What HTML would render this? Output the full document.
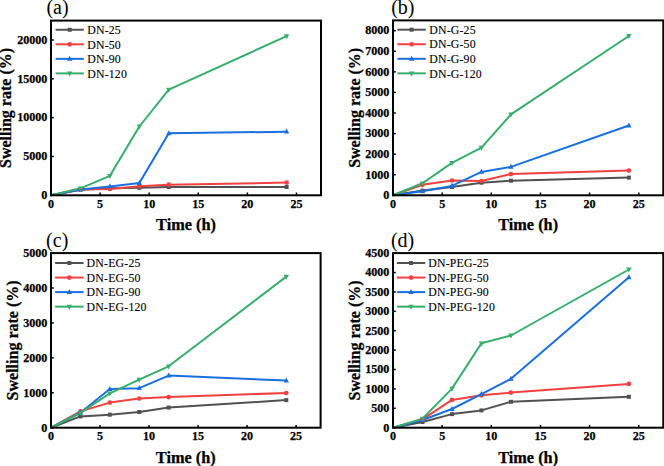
<!DOCTYPE html>
<html><head><meta charset="utf-8"><style>
html,body{margin:0;padding:0;background:#fff;}
body{width:664px;height:466px;overflow:hidden;}
svg{display:block;}
text{font-family:"Liberation Serif",serif;fill:#000;}
.tk{font-size:12.1px;font-weight:bold;stroke:#000;stroke-width:0.25px;}
.lg{font-size:11.8px;fill:#000;stroke:#000;stroke-width:0.12px;letter-spacing:0.2px;}
.ti{font-size:16.3px;font-weight:bold;stroke:#000;stroke-width:0.25px;}
.pl{font-size:20px;}
.yl{font-size:16px;}
</style></head><body>
<svg width="664" height="466" viewBox="0 0 664 466">
<rect width="664" height="466" fill="#fff"/>
<polyline points="51.00,195.30 80.45,189.70 109.91,188.30 139.36,187.80 168.82,187.00 286.64,187.00" fill="none" stroke="#515151" stroke-width="2.0" stroke-linejoin="round"/>
<polyline points="51.00,195.30 80.45,189.50 109.91,188.90 139.36,186.30 168.82,184.70 286.64,182.60" fill="none" stroke="#F14040" stroke-width="2.0" stroke-linejoin="round"/>
<polyline points="51.00,195.30 80.45,189.40 109.91,186.40 139.36,183.10 168.82,133.30 286.64,131.70" fill="none" stroke="#1A6FDF" stroke-width="2.0" stroke-linejoin="round"/>
<polyline points="51.00,195.30 80.45,188.30 109.91,175.80 139.36,126.50 168.82,89.70 286.64,36.10" fill="none" stroke="#37AD6B" stroke-width="2.0" stroke-linejoin="round"/>
<rect x="78.45" y="187.70" width="4.0" height="4.0" fill="#515151"/>
<rect x="107.91" y="186.30" width="4.0" height="4.0" fill="#515151"/>
<rect x="137.36" y="185.80" width="4.0" height="4.0" fill="#515151"/>
<rect x="166.82" y="185.00" width="4.0" height="4.0" fill="#515151"/>
<rect x="284.64" y="185.00" width="4.0" height="4.0" fill="#515151"/>
<circle cx="80.45" cy="189.50" r="2.35" fill="#F14040"/>
<circle cx="109.91" cy="188.90" r="2.35" fill="#F14040"/>
<circle cx="139.36" cy="186.30" r="2.35" fill="#F14040"/>
<circle cx="168.82" cy="184.70" r="2.35" fill="#F14040"/>
<circle cx="286.64" cy="182.60" r="2.35" fill="#F14040"/>
<polygon points="80.45,186.30 83.15,191.30 77.75,191.30" fill="#1A6FDF"/>
<polygon points="109.91,183.30 112.61,188.30 107.21,188.30" fill="#1A6FDF"/>
<polygon points="139.36,180.00 142.06,185.00 136.66,185.00" fill="#1A6FDF"/>
<polygon points="168.82,130.20 171.52,135.20 166.12,135.20" fill="#1A6FDF"/>
<polygon points="286.64,128.60 289.34,133.60 283.94,133.60" fill="#1A6FDF"/>
<polygon points="80.45,191.40 83.15,186.40 77.75,186.40" fill="#37AD6B"/>
<polygon points="109.91,178.90 112.61,173.90 107.21,173.90" fill="#37AD6B"/>
<polygon points="139.36,129.60 142.06,124.60 136.66,124.60" fill="#37AD6B"/>
<polygon points="168.82,92.80 171.52,87.80 166.12,87.80" fill="#37AD6B"/>
<polygon points="286.64,39.20 289.34,34.20 283.94,34.20" fill="#37AD6B"/>
<line x1="55.6" y1="29.75" x2="83.8" y2="29.75" stroke="#515151" stroke-width="2.0"/>
<rect x="67.70" y="27.75" width="4.0" height="4.0" fill="#515151"/>
<text x="87.2" y="33.95" class="lg">DN-25</text>
<line x1="55.6" y1="44.30" x2="83.8" y2="44.30" stroke="#F14040" stroke-width="2.0"/>
<circle cx="69.70" cy="44.30" r="2.35" fill="#F14040"/>
<text x="87.2" y="48.50" class="lg">DN-50</text>
<line x1="55.6" y1="58.85" x2="83.8" y2="58.85" stroke="#1A6FDF" stroke-width="2.0"/>
<polygon points="69.70,55.75 72.40,60.75 67.00,60.75" fill="#1A6FDF"/>
<text x="87.2" y="63.05" class="lg">DN-90</text>
<line x1="55.6" y1="73.40" x2="83.8" y2="73.40" stroke="#37AD6B" stroke-width="2.0"/>
<polygon points="69.70,76.50 72.40,71.50 67.00,71.50" fill="#37AD6B"/>
<text x="87.2" y="77.60" class="lg">DN-120</text>
<rect x="51" y="20.6" width="270" height="174.70" fill="none" stroke="#000" stroke-width="2.0"/>
<line x1="51.00" y1="195.3" x2="51.00" y2="192.50" stroke="#000" stroke-width="1.5"/>
<text x="51.00" y="207.90" class="tk" text-anchor="middle">0</text>
<line x1="100.09" y1="195.3" x2="100.09" y2="192.50" stroke="#000" stroke-width="1.5"/>
<text x="100.09" y="207.90" class="tk" text-anchor="middle">5</text>
<line x1="149.18" y1="195.3" x2="149.18" y2="192.50" stroke="#000" stroke-width="1.5"/>
<text x="149.18" y="207.90" class="tk" text-anchor="middle">10</text>
<line x1="198.27" y1="195.3" x2="198.27" y2="192.50" stroke="#000" stroke-width="1.5"/>
<text x="198.27" y="207.90" class="tk" text-anchor="middle">15</text>
<line x1="247.36" y1="195.3" x2="247.36" y2="192.50" stroke="#000" stroke-width="1.5"/>
<text x="247.36" y="207.90" class="tk" text-anchor="middle">20</text>
<line x1="296.45" y1="195.3" x2="296.45" y2="192.50" stroke="#000" stroke-width="1.5"/>
<text x="296.45" y="207.90" class="tk" text-anchor="middle">25</text>
<line x1="51" y1="195.30" x2="53.8" y2="195.30" stroke="#000" stroke-width="1.5"/>
<text x="47.4" y="199.10" class="tk" text-anchor="end">0</text>
<line x1="51" y1="156.48" x2="53.8" y2="156.48" stroke="#000" stroke-width="1.5"/>
<text x="47.4" y="160.28" class="tk" text-anchor="end">5000</text>
<line x1="51" y1="117.66" x2="53.8" y2="117.66" stroke="#000" stroke-width="1.5"/>
<text x="47.4" y="121.46" class="tk" text-anchor="end">10000</text>
<line x1="51" y1="78.83" x2="53.8" y2="78.83" stroke="#000" stroke-width="1.5"/>
<text x="47.4" y="82.63" class="tk" text-anchor="end">15000</text>
<line x1="51" y1="40.01" x2="53.8" y2="40.01" stroke="#000" stroke-width="1.5"/>
<text x="47.4" y="43.81" class="tk" text-anchor="end">20000</text>
<text x="186.00" y="230.40" class="ti" text-anchor="middle">Time (h)</text>
<text transform="translate(11.4,107.95) rotate(-90)" class="ti yl" text-anchor="middle">Swelling rate (%)</text>
<text x="46.4" y="14.3" class="pl">(a)</text>
<polyline points="393.00,195.30 422.49,190.60 451.97,187.00 481.46,182.70 510.95,180.70 628.90,177.60" fill="none" stroke="#515151" stroke-width="2.0" stroke-linejoin="round"/>
<polyline points="393.00,195.30 422.49,184.80 451.97,180.50 481.46,181.00 510.95,174.10 628.90,170.60" fill="none" stroke="#F14040" stroke-width="2.0" stroke-linejoin="round"/>
<polyline points="393.00,195.30 422.49,191.30 451.97,185.90 481.46,171.90 510.95,166.90 628.90,125.50" fill="none" stroke="#1A6FDF" stroke-width="2.0" stroke-linejoin="round"/>
<polyline points="393.00,195.30 422.49,183.30 451.97,162.90 481.46,147.70 510.95,114.40 628.90,36.00" fill="none" stroke="#37AD6B" stroke-width="2.0" stroke-linejoin="round"/>
<rect x="420.49" y="188.60" width="4.0" height="4.0" fill="#515151"/>
<rect x="449.97" y="185.00" width="4.0" height="4.0" fill="#515151"/>
<rect x="479.46" y="180.70" width="4.0" height="4.0" fill="#515151"/>
<rect x="508.95" y="178.70" width="4.0" height="4.0" fill="#515151"/>
<rect x="626.90" y="175.60" width="4.0" height="4.0" fill="#515151"/>
<circle cx="422.49" cy="184.80" r="2.35" fill="#F14040"/>
<circle cx="451.97" cy="180.50" r="2.35" fill="#F14040"/>
<circle cx="481.46" cy="181.00" r="2.35" fill="#F14040"/>
<circle cx="510.95" cy="174.10" r="2.35" fill="#F14040"/>
<circle cx="628.90" cy="170.60" r="2.35" fill="#F14040"/>
<polygon points="422.49,188.20 425.19,193.20 419.79,193.20" fill="#1A6FDF"/>
<polygon points="451.97,182.80 454.67,187.80 449.27,187.80" fill="#1A6FDF"/>
<polygon points="481.46,168.80 484.16,173.80 478.76,173.80" fill="#1A6FDF"/>
<polygon points="510.95,163.80 513.65,168.80 508.25,168.80" fill="#1A6FDF"/>
<polygon points="628.90,122.40 631.60,127.40 626.20,127.40" fill="#1A6FDF"/>
<polygon points="422.49,186.40 425.19,181.40 419.79,181.40" fill="#37AD6B"/>
<polygon points="451.97,166.00 454.67,161.00 449.27,161.00" fill="#37AD6B"/>
<polygon points="481.46,150.80 484.16,145.80 478.76,145.80" fill="#37AD6B"/>
<polygon points="510.95,117.50 513.65,112.50 508.25,112.50" fill="#37AD6B"/>
<polygon points="628.90,39.10 631.60,34.10 626.20,34.10" fill="#37AD6B"/>
<line x1="397.4" y1="29.70" x2="425.8" y2="29.70" stroke="#515151" stroke-width="2.0"/>
<rect x="409.60" y="27.70" width="4.0" height="4.0" fill="#515151"/>
<text x="429.2" y="33.90" class="lg">DN-G-25</text>
<line x1="397.4" y1="44.25" x2="425.8" y2="44.25" stroke="#F14040" stroke-width="2.0"/>
<circle cx="411.60" cy="44.25" r="2.35" fill="#F14040"/>
<text x="429.2" y="48.45" class="lg">DN-G-50</text>
<line x1="397.4" y1="58.80" x2="425.8" y2="58.80" stroke="#1A6FDF" stroke-width="2.0"/>
<polygon points="411.60,55.70 414.30,60.70 408.90,60.70" fill="#1A6FDF"/>
<text x="429.2" y="63.00" class="lg">DN-G-90</text>
<line x1="397.4" y1="73.35" x2="425.8" y2="73.35" stroke="#37AD6B" stroke-width="2.0"/>
<polygon points="411.60,76.45 414.30,71.45 408.90,71.45" fill="#37AD6B"/>
<text x="429.2" y="77.55" class="lg">DN-G-120</text>
<rect x="393" y="20.4" width="270.29999999999995" height="174.90" fill="none" stroke="#000" stroke-width="2.0"/>
<line x1="393.00" y1="195.3" x2="393.00" y2="192.50" stroke="#000" stroke-width="1.5"/>
<text x="393.00" y="207.90" class="tk" text-anchor="middle">0</text>
<line x1="442.15" y1="195.3" x2="442.15" y2="192.50" stroke="#000" stroke-width="1.5"/>
<text x="442.15" y="207.90" class="tk" text-anchor="middle">5</text>
<line x1="491.29" y1="195.3" x2="491.29" y2="192.50" stroke="#000" stroke-width="1.5"/>
<text x="491.29" y="207.90" class="tk" text-anchor="middle">10</text>
<line x1="540.44" y1="195.3" x2="540.44" y2="192.50" stroke="#000" stroke-width="1.5"/>
<text x="540.44" y="207.90" class="tk" text-anchor="middle">15</text>
<line x1="589.58" y1="195.3" x2="589.58" y2="192.50" stroke="#000" stroke-width="1.5"/>
<text x="589.58" y="207.90" class="tk" text-anchor="middle">20</text>
<line x1="638.73" y1="195.3" x2="638.73" y2="192.50" stroke="#000" stroke-width="1.5"/>
<text x="638.73" y="207.90" class="tk" text-anchor="middle">25</text>
<line x1="393" y1="195.30" x2="395.8" y2="195.30" stroke="#000" stroke-width="1.5"/>
<text x="389.4" y="199.10" class="tk" text-anchor="end">0</text>
<line x1="393" y1="174.72" x2="395.8" y2="174.72" stroke="#000" stroke-width="1.5"/>
<text x="389.4" y="178.52" class="tk" text-anchor="end">1000</text>
<line x1="393" y1="154.15" x2="395.8" y2="154.15" stroke="#000" stroke-width="1.5"/>
<text x="389.4" y="157.95" class="tk" text-anchor="end">2000</text>
<line x1="393" y1="133.57" x2="395.8" y2="133.57" stroke="#000" stroke-width="1.5"/>
<text x="389.4" y="137.37" class="tk" text-anchor="end">3000</text>
<line x1="393" y1="112.99" x2="395.8" y2="112.99" stroke="#000" stroke-width="1.5"/>
<text x="389.4" y="116.79" class="tk" text-anchor="end">4000</text>
<line x1="393" y1="92.42" x2="395.8" y2="92.42" stroke="#000" stroke-width="1.5"/>
<text x="389.4" y="96.22" class="tk" text-anchor="end">5000</text>
<line x1="393" y1="71.84" x2="395.8" y2="71.84" stroke="#000" stroke-width="1.5"/>
<text x="389.4" y="75.64" class="tk" text-anchor="end">6000</text>
<line x1="393" y1="51.26" x2="395.8" y2="51.26" stroke="#000" stroke-width="1.5"/>
<text x="389.4" y="55.06" class="tk" text-anchor="end">7000</text>
<line x1="393" y1="30.69" x2="395.8" y2="30.69" stroke="#000" stroke-width="1.5"/>
<text x="389.4" y="34.49" class="tk" text-anchor="end">8000</text>
<text x="528.15" y="230.40" class="ti" text-anchor="middle">Time (h)</text>
<text transform="translate(360.4,107.85) rotate(-90)" class="ti yl" text-anchor="middle">Swelling rate (%)</text>
<text x="391.2" y="14.3" class="pl">(b)</text>
<polyline points="51.00,427.70 80.41,416.40 109.82,414.70 139.23,412.00 168.64,407.60 286.29,400.10" fill="none" stroke="#515151" stroke-width="2.0" stroke-linejoin="round"/>
<polyline points="51.00,427.70 80.41,411.40 109.82,402.60 139.23,398.50 168.64,397.10 286.29,393.00" fill="none" stroke="#F14040" stroke-width="2.0" stroke-linejoin="round"/>
<polyline points="51.00,427.70 80.41,412.70 109.82,389.00 139.23,388.20 168.64,375.60 286.29,380.60" fill="none" stroke="#1A6FDF" stroke-width="2.0" stroke-linejoin="round"/>
<polyline points="51.00,427.70 80.41,413.00 109.82,393.40 139.23,379.70 168.64,366.30 286.29,276.60" fill="none" stroke="#37AD6B" stroke-width="2.0" stroke-linejoin="round"/>
<rect x="78.41" y="414.40" width="4.0" height="4.0" fill="#515151"/>
<rect x="107.82" y="412.70" width="4.0" height="4.0" fill="#515151"/>
<rect x="137.23" y="410.00" width="4.0" height="4.0" fill="#515151"/>
<rect x="166.64" y="405.60" width="4.0" height="4.0" fill="#515151"/>
<rect x="284.29" y="398.10" width="4.0" height="4.0" fill="#515151"/>
<circle cx="80.41" cy="411.40" r="2.35" fill="#F14040"/>
<circle cx="109.82" cy="402.60" r="2.35" fill="#F14040"/>
<circle cx="139.23" cy="398.50" r="2.35" fill="#F14040"/>
<circle cx="168.64" cy="397.10" r="2.35" fill="#F14040"/>
<circle cx="286.29" cy="393.00" r="2.35" fill="#F14040"/>
<polygon points="80.41,409.60 83.11,414.60 77.71,414.60" fill="#1A6FDF"/>
<polygon points="109.82,385.90 112.52,390.90 107.12,390.90" fill="#1A6FDF"/>
<polygon points="139.23,385.10 141.93,390.10 136.53,390.10" fill="#1A6FDF"/>
<polygon points="168.64,372.50 171.34,377.50 165.94,377.50" fill="#1A6FDF"/>
<polygon points="286.29,377.50 288.99,382.50 283.59,382.50" fill="#1A6FDF"/>
<polygon points="80.41,416.10 83.11,411.10 77.71,411.10" fill="#37AD6B"/>
<polygon points="109.82,396.50 112.52,391.50 107.12,391.50" fill="#37AD6B"/>
<polygon points="139.23,382.80 141.93,377.80 136.53,377.80" fill="#37AD6B"/>
<polygon points="168.64,369.40 171.34,364.40 165.94,364.40" fill="#37AD6B"/>
<polygon points="286.29,279.70 288.99,274.70 283.59,274.70" fill="#37AD6B"/>
<line x1="55.1" y1="263.00" x2="83.6" y2="263.00" stroke="#515151" stroke-width="2.0"/>
<rect x="67.35" y="261.00" width="4.0" height="4.0" fill="#515151"/>
<text x="86.6" y="267.20" class="lg">DN-EG-25</text>
<line x1="55.1" y1="277.55" x2="83.6" y2="277.55" stroke="#F14040" stroke-width="2.0"/>
<circle cx="69.35" cy="277.55" r="2.35" fill="#F14040"/>
<text x="86.6" y="281.75" class="lg">DN-EG-50</text>
<line x1="55.1" y1="292.10" x2="83.6" y2="292.10" stroke="#1A6FDF" stroke-width="2.0"/>
<polygon points="69.35,289.00 72.05,294.00 66.65,294.00" fill="#1A6FDF"/>
<text x="86.6" y="296.30" class="lg">DN-EG-90</text>
<line x1="55.1" y1="306.65" x2="83.6" y2="306.65" stroke="#37AD6B" stroke-width="2.0"/>
<polygon points="69.35,309.75 72.05,304.75 66.65,304.75" fill="#37AD6B"/>
<text x="86.6" y="310.85" class="lg">DN-EG-120</text>
<rect x="51" y="253.1" width="269.6" height="174.60" fill="none" stroke="#000" stroke-width="2.0"/>
<line x1="51.00" y1="427.7" x2="51.00" y2="424.90" stroke="#000" stroke-width="1.5"/>
<text x="51.00" y="440.30" class="tk" text-anchor="middle">0</text>
<line x1="100.02" y1="427.7" x2="100.02" y2="424.90" stroke="#000" stroke-width="1.5"/>
<text x="100.02" y="440.30" class="tk" text-anchor="middle">5</text>
<line x1="149.04" y1="427.7" x2="149.04" y2="424.90" stroke="#000" stroke-width="1.5"/>
<text x="149.04" y="440.30" class="tk" text-anchor="middle">10</text>
<line x1="198.05" y1="427.7" x2="198.05" y2="424.90" stroke="#000" stroke-width="1.5"/>
<text x="198.05" y="440.30" class="tk" text-anchor="middle">15</text>
<line x1="247.07" y1="427.7" x2="247.07" y2="424.90" stroke="#000" stroke-width="1.5"/>
<text x="247.07" y="440.30" class="tk" text-anchor="middle">20</text>
<line x1="296.09" y1="427.7" x2="296.09" y2="424.90" stroke="#000" stroke-width="1.5"/>
<text x="296.09" y="440.30" class="tk" text-anchor="middle">25</text>
<line x1="51" y1="427.70" x2="53.8" y2="427.70" stroke="#000" stroke-width="1.5"/>
<text x="47.4" y="431.50" class="tk" text-anchor="end">0</text>
<line x1="51" y1="392.78" x2="53.8" y2="392.78" stroke="#000" stroke-width="1.5"/>
<text x="47.4" y="396.58" class="tk" text-anchor="end">1000</text>
<line x1="51" y1="357.86" x2="53.8" y2="357.86" stroke="#000" stroke-width="1.5"/>
<text x="47.4" y="361.66" class="tk" text-anchor="end">2000</text>
<line x1="51" y1="322.94" x2="53.8" y2="322.94" stroke="#000" stroke-width="1.5"/>
<text x="47.4" y="326.74" class="tk" text-anchor="end">3000</text>
<line x1="51" y1="288.02" x2="53.8" y2="288.02" stroke="#000" stroke-width="1.5"/>
<text x="47.4" y="291.82" class="tk" text-anchor="end">4000</text>
<line x1="51" y1="253.10" x2="53.8" y2="253.10" stroke="#000" stroke-width="1.5"/>
<text x="47.4" y="256.90" class="tk" text-anchor="end">5000</text>
<text x="185.80" y="462.80" class="ti" text-anchor="middle">Time (h)</text>
<text transform="translate(17.5,340.40) rotate(-90)" class="ti yl" text-anchor="middle">Swelling rate (%)</text>
<text x="46.1" y="246.9" class="pl">(c)</text>
<polyline points="393.00,427.70 422.49,422.00 451.97,414.10 481.46,410.40 510.95,401.80 628.90,396.80" fill="none" stroke="#515151" stroke-width="2.0" stroke-linejoin="round"/>
<polyline points="393.00,427.70 422.49,419.40 451.97,399.90 481.46,395.30 510.95,392.60 628.90,383.90" fill="none" stroke="#F14040" stroke-width="2.0" stroke-linejoin="round"/>
<polyline points="393.00,427.70 422.49,420.00 451.97,409.00 481.46,394.10 510.95,378.80 628.90,277.30" fill="none" stroke="#1A6FDF" stroke-width="2.0" stroke-linejoin="round"/>
<polyline points="393.00,427.70 422.49,418.60 451.97,388.60 481.46,343.30 510.95,335.50 628.90,269.50" fill="none" stroke="#37AD6B" stroke-width="2.0" stroke-linejoin="round"/>
<rect x="420.49" y="420.00" width="4.0" height="4.0" fill="#515151"/>
<rect x="449.97" y="412.10" width="4.0" height="4.0" fill="#515151"/>
<rect x="479.46" y="408.40" width="4.0" height="4.0" fill="#515151"/>
<rect x="508.95" y="399.80" width="4.0" height="4.0" fill="#515151"/>
<rect x="626.90" y="394.80" width="4.0" height="4.0" fill="#515151"/>
<circle cx="422.49" cy="419.40" r="2.35" fill="#F14040"/>
<circle cx="451.97" cy="399.90" r="2.35" fill="#F14040"/>
<circle cx="481.46" cy="395.30" r="2.35" fill="#F14040"/>
<circle cx="510.95" cy="392.60" r="2.35" fill="#F14040"/>
<circle cx="628.90" cy="383.90" r="2.35" fill="#F14040"/>
<polygon points="422.49,416.90 425.19,421.90 419.79,421.90" fill="#1A6FDF"/>
<polygon points="451.97,405.90 454.67,410.90 449.27,410.90" fill="#1A6FDF"/>
<polygon points="481.46,391.00 484.16,396.00 478.76,396.00" fill="#1A6FDF"/>
<polygon points="510.95,375.70 513.65,380.70 508.25,380.70" fill="#1A6FDF"/>
<polygon points="628.90,274.20 631.60,279.20 626.20,279.20" fill="#1A6FDF"/>
<polygon points="422.49,421.70 425.19,416.70 419.79,416.70" fill="#37AD6B"/>
<polygon points="451.97,391.70 454.67,386.70 449.27,386.70" fill="#37AD6B"/>
<polygon points="481.46,346.40 484.16,341.40 478.76,341.40" fill="#37AD6B"/>
<polygon points="510.95,338.60 513.65,333.60 508.25,333.60" fill="#37AD6B"/>
<polygon points="628.90,272.60 631.60,267.60 626.20,267.60" fill="#37AD6B"/>
<line x1="396.9" y1="263.00" x2="425.2" y2="263.00" stroke="#515151" stroke-width="2.0"/>
<rect x="409.05" y="261.00" width="4.0" height="4.0" fill="#515151"/>
<text x="428.2" y="267.20" class="lg">DN-PEG-25</text>
<line x1="396.9" y1="277.55" x2="425.2" y2="277.55" stroke="#F14040" stroke-width="2.0"/>
<circle cx="411.05" cy="277.55" r="2.35" fill="#F14040"/>
<text x="428.2" y="281.75" class="lg">DN-PEG-50</text>
<line x1="396.9" y1="292.10" x2="425.2" y2="292.10" stroke="#1A6FDF" stroke-width="2.0"/>
<polygon points="411.05,289.00 413.75,294.00 408.35,294.00" fill="#1A6FDF"/>
<text x="428.2" y="296.30" class="lg">DN-PEG-90</text>
<line x1="396.9" y1="306.65" x2="425.2" y2="306.65" stroke="#37AD6B" stroke-width="2.0"/>
<polygon points="411.05,309.75 413.75,304.75 408.35,304.75" fill="#37AD6B"/>
<text x="428.2" y="310.85" class="lg">DN-PEG-120</text>
<rect x="393" y="253.1" width="270.29999999999995" height="174.60" fill="none" stroke="#000" stroke-width="2.0"/>
<line x1="393.00" y1="427.7" x2="393.00" y2="424.90" stroke="#000" stroke-width="1.5"/>
<text x="393.00" y="440.30" class="tk" text-anchor="middle">0</text>
<line x1="442.15" y1="427.7" x2="442.15" y2="424.90" stroke="#000" stroke-width="1.5"/>
<text x="442.15" y="440.30" class="tk" text-anchor="middle">5</text>
<line x1="491.29" y1="427.7" x2="491.29" y2="424.90" stroke="#000" stroke-width="1.5"/>
<text x="491.29" y="440.30" class="tk" text-anchor="middle">10</text>
<line x1="540.44" y1="427.7" x2="540.44" y2="424.90" stroke="#000" stroke-width="1.5"/>
<text x="540.44" y="440.30" class="tk" text-anchor="middle">15</text>
<line x1="589.58" y1="427.7" x2="589.58" y2="424.90" stroke="#000" stroke-width="1.5"/>
<text x="589.58" y="440.30" class="tk" text-anchor="middle">20</text>
<line x1="638.73" y1="427.7" x2="638.73" y2="424.90" stroke="#000" stroke-width="1.5"/>
<text x="638.73" y="440.30" class="tk" text-anchor="middle">25</text>
<line x1="393" y1="427.70" x2="395.8" y2="427.70" stroke="#000" stroke-width="1.5"/>
<text x="389.4" y="431.50" class="tk" text-anchor="end">0</text>
<line x1="393" y1="408.30" x2="395.8" y2="408.30" stroke="#000" stroke-width="1.5"/>
<text x="389.4" y="412.10" class="tk" text-anchor="end">500</text>
<line x1="393" y1="388.90" x2="395.8" y2="388.90" stroke="#000" stroke-width="1.5"/>
<text x="389.4" y="392.70" class="tk" text-anchor="end">1000</text>
<line x1="393" y1="369.50" x2="395.8" y2="369.50" stroke="#000" stroke-width="1.5"/>
<text x="389.4" y="373.30" class="tk" text-anchor="end">1500</text>
<line x1="393" y1="350.10" x2="395.8" y2="350.10" stroke="#000" stroke-width="1.5"/>
<text x="389.4" y="353.90" class="tk" text-anchor="end">2000</text>
<line x1="393" y1="330.70" x2="395.8" y2="330.70" stroke="#000" stroke-width="1.5"/>
<text x="389.4" y="334.50" class="tk" text-anchor="end">2500</text>
<line x1="393" y1="311.30" x2="395.8" y2="311.30" stroke="#000" stroke-width="1.5"/>
<text x="389.4" y="315.10" class="tk" text-anchor="end">3000</text>
<line x1="393" y1="291.90" x2="395.8" y2="291.90" stroke="#000" stroke-width="1.5"/>
<text x="389.4" y="295.70" class="tk" text-anchor="end">3500</text>
<line x1="393" y1="272.50" x2="395.8" y2="272.50" stroke="#000" stroke-width="1.5"/>
<text x="389.4" y="276.30" class="tk" text-anchor="end">4000</text>
<line x1="393" y1="253.10" x2="395.8" y2="253.10" stroke="#000" stroke-width="1.5"/>
<text x="389.4" y="256.90" class="tk" text-anchor="end">4500</text>
<text x="528.15" y="462.80" class="ti" text-anchor="middle">Time (h)</text>
<text transform="translate(359.9,340.40) rotate(-90)" class="ti yl" text-anchor="middle">Swelling rate (%)</text>
<text x="390.9" y="246.9" class="pl">(d)</text>
</svg>
</body></html>
